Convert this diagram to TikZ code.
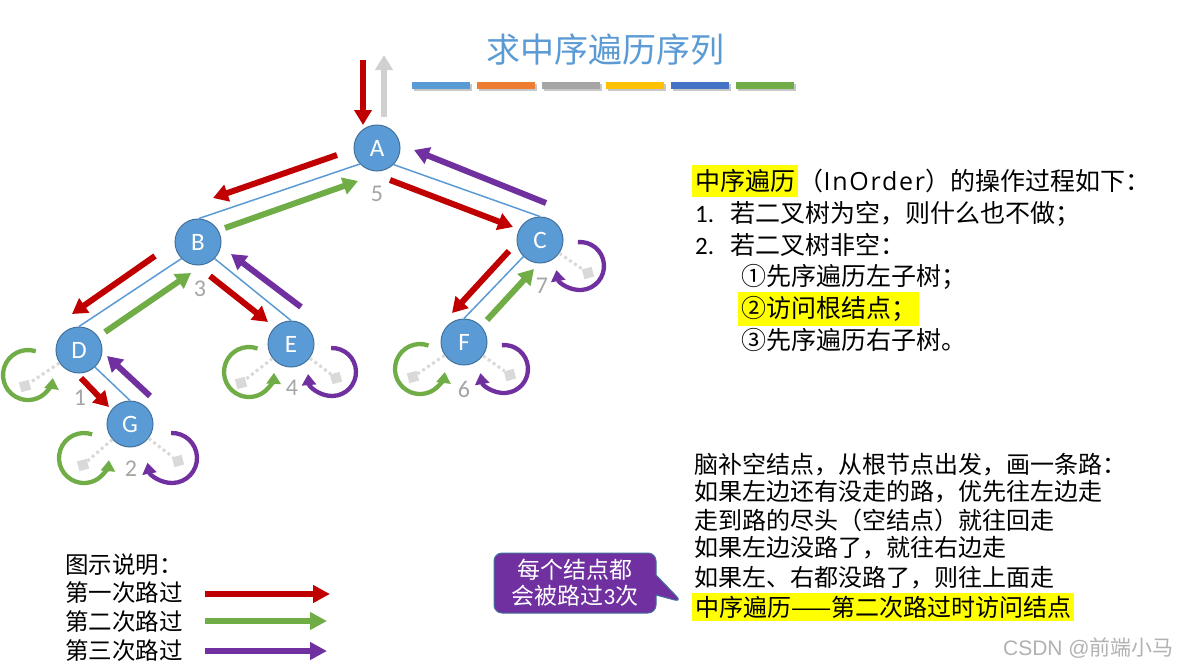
\documentclass[tikz,border=0pt]{standalone}
\usepackage{fontspec}
\setmainfont{Carlito}
\newfontfamily\cjk{Noto Sans CJK SC}
\newfontfamily\latw[LetterSpace=7]{Open Sans}
\newfontfamily\wmfont{Liberation Sans}
\usetikzlibrary{arrows.meta,shapes.callouts,calc}
\definecolor{nodeblue}{HTML}{5B9BD5}
\definecolor{nodeborder}{HTML}{41719C}
\definecolor{pred}{HTML}{C00000}
\definecolor{pgreen}{HTML}{70AD47}
\definecolor{ppurple}{HTML}{7030A0}
\definecolor{pgray}{HTML}{D0D0D0}
\definecolor{numgray}{HTML}{A5A5A5}
\definecolor{nullgray}{HTML}{D9D9D9}
\definecolor{cbarA}{HTML}{5B9BD5}
\definecolor{cbarB}{HTML}{ED7D31}
\definecolor{cbarC}{HTML}{A5A5A5}
\definecolor{cbarD}{HTML}{FFC000}
\definecolor{cbarE}{HTML}{4472C4}
\definecolor{cbarF}{HTML}{70AD47}
\definecolor{hlyellow}{HTML}{FFFF00}
\begin{document}
\begin{tikzpicture}[x=1pt,y=1pt,
  tnode/.style={circle, fill=nodeblue, draw=nodeborder, line width=1pt, minimum size=46pt, inner sep=0pt, text=white, font=\rmfamily\fontsize{25}{25}\selectfont},
  treeedge/.style={draw=nodeblue, line width=1.5pt},
  pass/.style={line width=6pt, color=#1, -{Triangle[width=17pt,length=15pt]}},
  loopar/.style={line width=4.3pt, color=#1, -{Triangle[width=14pt,length=11pt]}},
  numlbl/.style={text=numgray, inner sep=0pt, font=\rmfamily\fontsize{24}{24}\selectfont},
  nullsq/.style={fill=nullgray, minimum size=10pt, inner sep=0pt, rotate=15},
  nullline/.style={draw=nullgray, line width=3pt, dash pattern=on 3pt off 3pt},
  txtA/.style={anchor=west, inner sep=0pt, font=\cjk\fontsize{25}{30}\selectfont},
  hlA/.style={txtA, fill=hlyellow, inner xsep=3pt, inner ysep=4pt},
  txtB/.style={anchor=west, inner sep=0pt, font=\cjk\fontsize{24}{28}\selectfont},
  hlB/.style={txtB, fill=hlyellow, inner xsep=3pt, inner ysep=3pt},
  legtxt/.style={anchor=west, inner sep=0pt, font=\cjk\fontsize{23.5}{28}\selectfont},
  legar/.style={line width=6pt, color=#1, -{Triangle[width=17pt,length=17pt]}},
  barshadow/.style={fill=black!22}
]
\useasboundingbox (0,0) rectangle (1179,-667);
\fill[white] (0,0) rectangle (1179,-667);

% title and colour bars
\node[text=nodeblue, font=\cjk\fontsize{34}{34}\selectfont] (title) at (605,-50) {求中序遍历序列};
\foreach \c [count=\i from 0] in {cbarA,cbarB,cbarC,cbarD,cbarE,cbarF} {
  \fill[barshadow] ({414+64.8*\i},-84) rectangle ++(58,-7);
  \fill[\c] ({412+64.8*\i},-82) rectangle ++(58,-7);
}

% tree nodes
\node[tnode] (A) at (377,-148) {A};
\node[tnode] (B) at (198,-242) {B};
\node[tnode] (C) at (540,-240) {C};
\node[tnode] (D) at (79,-350) {D};
\node[tnode] (E) at (291,-344) {E};
\node[tnode] (F) at (464,-342) {F};
\node[tnode] (G) at (130,-424) {G};

% tree edges
\draw[treeedge] (A.223) -- (B.88);
\draw[treeedge] (A.315) -- (C.90);
\draw[treeedge] (B.225) -- (D.90);
\draw[treeedge] (B.315) -- (E.90);
\draw[treeedge] (C.225) -- (F.90);
\draw[treeedge] (D.313) -- (G.90);

% empty children
\node[nullsq] (Dn) at (25,-386) {};
\node[nullsq] (Eln) at (241,-383) {};
\node[nullsq] (Ern) at (336,-378) {};
\node[nullsq] (Gln) at (83,-465) {};
\node[nullsq] (Grn) at (178,-461) {};
\node[nullsq] (Fln) at (413,-377) {};
\node[nullsq] (Frn) at (510,-375) {};
\node[nullsq] (Crn) at (588,-273) {};
\draw[nullline] (D) -- (Dn);
\draw[nullline] (E) -- (Eln);
\draw[nullline] (E) -- (Ern);
\draw[nullline] (G) -- (Gln);
\draw[nullline] (G) -- (Grn);
\draw[nullline] (F) -- (Fln);
\draw[nullline] (F) -- (Frn);
\draw[nullline] (C) -- (Crn);

% visit order numbers
\node[numlbl] (n5) at (377,-194) {5};
\node[numlbl] (n3) at (200,-289) {3};
\node[numlbl] (n7) at (542,-286) {7};
\node[numlbl] (n1) at (80,-398) {1};
\node[numlbl] (n4) at (292,-388) {4};
\node[numlbl] (n2) at (131,-469) {2};
\node[numlbl] (n6) at (464,-389) {6};

% path arrows
\coordinate (inS) at (363,-60);   \coordinate (inE) at (363,-125);
\coordinate (outS) at (384,-117); \coordinate (outE) at (384,-55);
\coordinate (ab1S) at (337,-155); \coordinate (ab1E) at (213,-198);
\coordinate (ab2S) at (225,-228); \coordinate (ab2E) at (358,-181);
\coordinate (ac1S) at (390,-180); \coordinate (ac1E) at (513,-227);
\coordinate (ac3S) at (546,-203); \coordinate (ac3E) at (414,-150);
\coordinate (bd1S) at (155,-256); \coordinate (bd1E) at (72,-314);
\coordinate (bd2S) at (105,-332); \coordinate (bd2E) at (191,-273);
\coordinate (be1S) at (210,-276); \coordinate (be1E) at (268,-322);
\coordinate (be3S) at (301,-307); \coordinate (be3E) at (231,-254);
\coordinate (cf1S) at (509,-251); \coordinate (cf1E) at (452,-313);
\coordinate (cf2S) at (487,-320); \coordinate (cf2E) at (534,-269);
\coordinate (dg1S) at (81,-378);  \coordinate (dg1E) at (109,-407);
\coordinate (dg3S) at (150,-396); \coordinate (dg3E) at (107,-356);
\draw[pass=pred] (inS) -- (inE);
\draw[pass=pgray] (outS) -- (outE);
\draw[pass=pred] (ab1S) -- (ab1E);
\draw[pass=pgreen] (ab2S) -- (ab2E);
\draw[pass=pred] (ac1S) -- (ac1E);
\draw[pass=ppurple] (ac3S) -- (ac3E);
\draw[pass=pred] (bd1S) -- (bd1E);
\draw[pass=pgreen] (bd2S) -- (bd2E);
\draw[pass=pred] (be1S) -- (be1E);
\draw[pass=ppurple] (be3S) -- (be3E);
\draw[pass=pred] (cf1S) -- (cf1E);
\draw[pass=pgreen] (cf2S) -- (cf2E);
\draw[pass=pred] (dg1S) -- (dg1E);
\draw[pass=ppurple] (dg3S) -- (dg3E);

% loops to empty children
\coordinate (Dgc) at (28,-375);
\coordinate (Egc) at (249,-372); \coordinate (Epc) at (332,-372);
\coordinate (Ggc) at (84,-458);  \coordinate (Gpc) at (172,-458);
\coordinate (Fgc) at (420,-369); \coordinate (Fpc) at (504,-369);
\coordinate (Cpc) at (580,-266);
\draw[loopar=pgreen] ($(Dgc)+(72:25)$) arc[start angle=72,end angle=353,radius=25];
\draw[loopar=pgreen] ($(Egc)+(70:25)$) arc[start angle=70,end angle=358,radius=25];
\draw[loopar=ppurple] ($(Epc)+(92:24)$) arc[start angle=92,end angle=-175,radius=24];
\draw[loopar=pgreen] ($(Ggc)+(71:25)$) arc[start angle=71,end angle=355,radius=25];
\draw[loopar=ppurple] ($(Gpc)+(92:25)$) arc[start angle=92,end angle=-169,radius=25];
\draw[loopar=pgreen] ($(Fgc)+(70:25)$) arc[start angle=70,end angle=353,radius=25];
\draw[loopar=ppurple] ($(Fpc)+(95:24)$) arc[start angle=95,end angle=-170,radius=24];
\draw[loopar=ppurple] ($(Cpc)+(95:24)$) arc[start angle=95,end angle=-170,radius=24];

% right description
\node[hlA] (t1a) at (692,-181) {中序遍历};
\node[txtA] (t1b) at (t1a.east) {（{\latw\fontsize{25}{30}\selectfont InOrder}）的操作过程如下：};
\node[txtA] (t2) at (695,-214) {\makebox[35pt][l]{\rmfamily 1.}若二叉树为空，则什么也不做；};
\node[txtA] (t3) at (695,-245) {\makebox[35pt][l]{\rmfamily 2.}若二叉树非空：};
\node[txtA] (t4) at (741,-277) {①先序遍历左子树；};
\node[hlA] (t5) at (738,-309) {②访问根结点；};
\node[txtA] (t6) at (741,-340) {③先序遍历右子树。};

% lower description
\node[txtB] (s1) at (694,-465) {脑补空结点，从根节点出发，画一条路：};
\node[txtB] (s2) at (694,-492) {如果左边还有没走的路，优先往左边走};
\node[txtB] (s3) at (694,-520) {走到路的尽头（空结点）就往回走};
\node[txtB] (s4) at (694,-548) {如果左边没路了，就往右边走};
\node[txtB] (s5) at (694,-578) {如果左、右都没路了，则往上面走};
\node[hlB] (s6) at (692,-607) {中序遍历——第二次路过时访问结点};

% legend
\node[legtxt] (lg0) at (65,-565) {图示说明：};
\node[legtxt] (lg1) at (65,-593) {第一次路过};
\node[legtxt] (lg2) at (65,-622) {第二次路过};
\node[legtxt] (lg3) at (65,-651) {第三次路过};
\coordinate (lg1S) at (205,-594); \coordinate (lg1E) at (330,-594);
\coordinate (lg2S) at (205,-621); \coordinate (lg2E) at (327,-621);
\coordinate (lg3S) at (205,-651); \coordinate (lg3E) at (327,-651);
\draw[legar=pred] (lg1S) -- (lg1E);
\draw[legar=pgreen] (lg2S) -- (lg2E);
\draw[legar=ppurple] (lg3S) -- (lg3E);

% callout
\node[rectangle callout, callout absolute pointer={(682,-602)}, callout pointer width=20pt,
  fill=ppurple, draw=nodeborder, line width=1pt, rounded corners=8pt,
  minimum width=162pt, minimum height=60pt, inner sep=2pt, text=white, align=center,
  font=\cjk\fontsize{23}{26}\selectfont] (call) at (575,-583) {每个结点都\\会被路过{\rmfamily 3}次};

% watermark
\node[anchor=east, inner sep=0pt, text=black!30, font=\cjk\fontsize{21}{21}\selectfont] (wm) at (1174,-648) {{\wmfont CSDN @}前端小马};
\end{tikzpicture}
\end{document}
